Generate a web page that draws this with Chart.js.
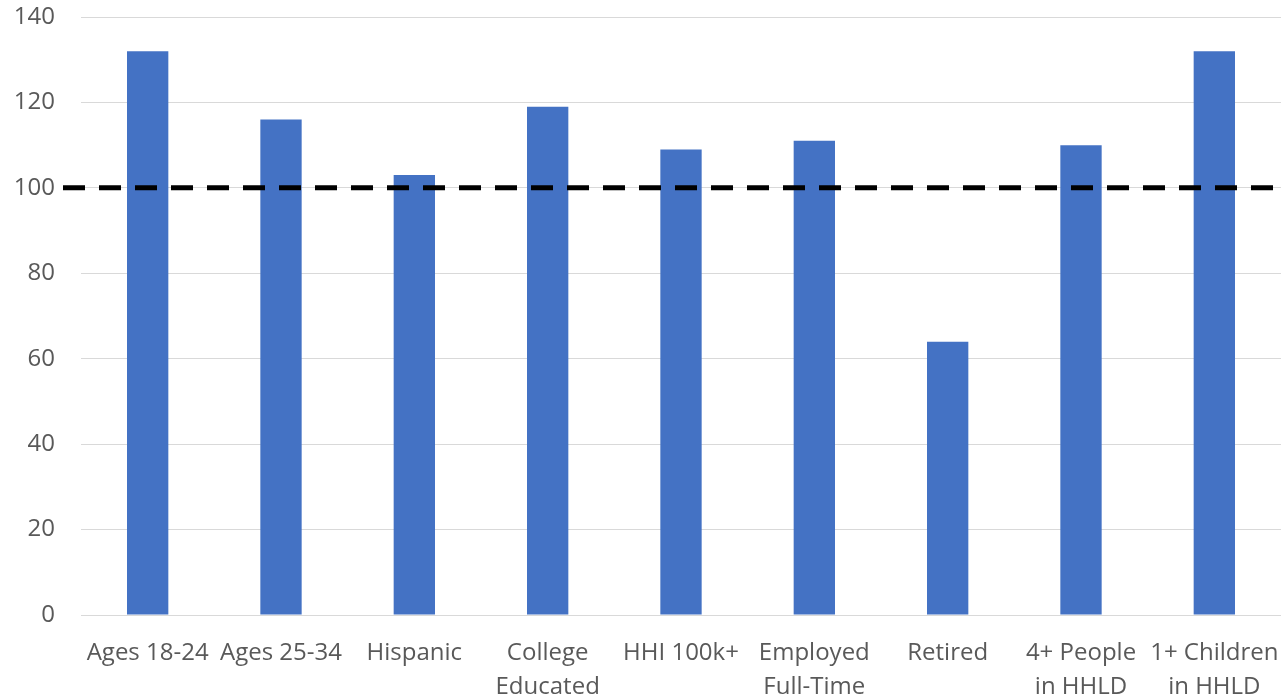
<!DOCTYPE html>
<html><head><meta charset="utf-8">
<script src="https://cdn.jsdelivr.net/npm/chart.js@4/dist/chart.umd.min.js"></script>
<style>html,body{margin:0;padding:0;background:#fff;overflow:hidden}canvas{display:block}</style>
</head><body><canvas id="c" width="1281" height="697"></canvas>
<script>
const categories = [["Ages 18-24"],["Ages 25-34"],["Hispanic"],["College","Educated"],["HHI 100k+"],["Employed","Full-Time"],["Retired"],["4+ People","in HHLD"],["1+ Children","in HHLD"]];
const indexValues = [132,116,103,119,109,111,64,110,132];
const benchmark = 100;
const yTicks = {min:0,max:140,step:20};

const benchPlugin = {
  id:'bench',
  afterDatasetsDraw(chart){
    const {ctx, chartArea, scales} = chart;
    const y = scales.y.getPixelForValue(benchmark);
    ctx.save();
    ctx.strokeStyle = '#000';
    ctx.lineWidth = 5;
    ctx.setLineDash([22,14]);
    ctx.beginPath();
    ctx.moveTo(chartArea.left-18, y);
    ctx.lineTo(chartArea.right, y);
    ctx.stroke();
    ctx.restore();
  }
};

new Chart(document.getElementById('c'), {
  type:'bar',
  data:{labels:categories, datasets:[{data:indexValues, backgroundColor:'#4472C4', barPercentage:0.31, categoryPercentage:1}]},
  options:{
    responsive:false, animation:false,
    layout:{padding:{top:17,right:0,left:15,bottom:0}},
    plugins:{legend:{display:false}, tooltip:{enabled:false}},
    scales:{
      x:{grid:{display:false}, border:{display:false},
         afterFit(s){ s.height = 82; s.paddingLeft = 0; s.paddingRight = 0; },
         ticks:{color:'#595959', font:{family:'Open Sans', size:24, lineHeight:1.42}, maxRotation:0, autoSkip:false, padding:13}},
      y:{min:yTicks.min, max:yTicks.max, grid:{color:'#d9d9d9', drawTicks:false}, border:{display:false},
         afterFit(s){ s.width = 66; s.paddingTop = 0; s.paddingBottom = 0; },
         ticks:{stepSize:yTicks.step, color:'#595959', font:{family:'Open Sans', size:24}, padding:26}}
    }
  },
  plugins:[benchPlugin]
});
</script></body></html>
